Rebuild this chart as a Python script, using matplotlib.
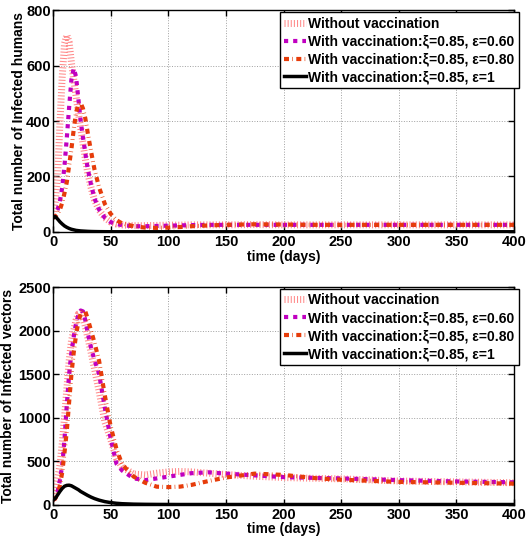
import matplotlib
matplotlib.use('Agg')
import matplotlib.pyplot as plt

# --- dados ---
t = [0, 2, 4, 6, 8, 10, 12, 14, 16, 18, 20, 22, 24, 26, 28, 30, 33, 36, 40, 45,
     50, 55, 60, 70, 80, 90, 100, 110, 120, 135, 150, 175, 200, 230, 250, 300, 350, 400]

# humanos infectados
hum_novac = [50, 110, 200, 390, 560, 680, 710, 685, 610, 550, 490, 430, 375, 320, 265, 215, 160, 115, 78, 50,
             35, 28, 25, 22, 22, 23, 24, 24, 25, 25, 25, 26, 25, 25, 25, 25, 25, 25]
hum_e060 = [50, 60, 80, 110, 160, 240, 340, 450, 550, 590, 560, 480, 400, 340, 285, 230, 170, 120, 80, 50,
            35, 28, 24, 20, 20, 21, 22, 23, 24, 25, 25, 25, 25, 25, 25, 25, 25, 25]
hum_e080 = [50, 55, 65, 80, 105, 140, 180, 240, 300, 370, 430, 460, 465, 445, 410, 360, 290, 225, 160, 100,
            65, 42, 30, 20, 15, 14, 15, 17, 20, 23, 25, 27, 26, 25, 25, 25, 25, 25]
hum_e1 = [50, 55, 46, 36, 28, 21, 16, 12, 9, 7, 5, 4, 3, 2.5, 2, 1.5, 1, 0.7, 0.4, 0.2,
          0.1, 0, 0, 0, 0, 0, 0, 0, 0, 0, 0, 0, 0, 0, 0, 0, 0, 0]

# vetores infectados
vec_novac = [50, 150, 300, 450, 700, 1000, 1330, 1650, 1880, 2000, 2120, 2190, 2200, 2150, 2050, 1930, 1750, 1560, 1300, 950,
             750, 530, 430, 350, 340, 360, 375, 380, 375, 360, 345, 325, 310, 300, 295, 270, 260, 250]
vec_e060 = [50, 80, 150, 280, 450, 750, 1150, 1500, 1750, 1930, 2080, 2180, 2230, 2220, 2120, 1980, 1800, 1660, 1500, 1110,
            760, 470, 390, 300, 280, 300, 320, 340, 360, 370, 355, 335, 315, 305, 300, 280, 265, 255]
vec_e080 = [50, 70, 120, 220, 370, 600, 850, 1180, 1500, 1750, 1950, 2100, 2190, 2230, 2220, 2140, 2000, 1860, 1650, 1250,
            900, 640, 460, 320, 250, 205, 200, 205, 225, 270, 310, 355, 340, 300, 285, 260, 250, 240]
vec_e1 = [50, 70, 110, 150, 185, 210, 220, 222, 215, 200, 185, 170, 150, 135, 120, 105, 85, 68, 50, 33,
          22, 14, 9, 4, 2, 1, 0.5, 0, 0, 0, 0, 0, 0, 0, 0, 0, 0, 0]

labels = ['Without vaccination',
          'With vaccination:\u03be=0.85, \u03b5=0.60',
          'With vaccination:\u03be=0.85, \u03b5=0.80',
          'With vaccination:\u03be=0.85, \u03b5=1']

plt.rcParams['font.family'] = ['Liberation Sans', 'DejaVu Sans']
plt.rcParams['font.weight'] = 'bold'
plt.rcParams['font.size'] = 10

fig = plt.figure(figsize=(5.3, 5.39), dpi=100)
ax1 = fig.add_axes([0.1, 0.57, 0.87, 0.411])
ax2 = fig.add_axes([0.1, 0.064, 0.87, 0.4035])


def draw(ax, series, ymax, yticks, ylabel, ylab_x):
    ax.plot(t, series[0], color='#ff8a8a', lw=5, dashes=(0.15, 0.3), dash_capstyle='butt', label=labels[0])
    ax.plot(t, series[1], color='#c000c0', lw=3, dashes=(1, 1.2), dash_capstyle='butt', label=labels[1])
    ax.plot(t, series[2], color='#e63c0a', lw=3, dashes=(1.2, 0.8, 0.15, 0.8), dash_capstyle='butt', label=labels[2])
    ax.plot(t, series[3], color='black', lw=2.5, label=labels[3])
    ax.set_xlim(0, 400)
    ax.set_ylim(0, ymax)
    ax.set_xticks(range(0, 401, 50))
    ax.set_yticks(yticks)
    ax.grid(True, linestyle=':', color='#a0a0a0', linewidth=0.7)
    ax.tick_params(direction='in', top=True, right=True, length=4, width=1, labelsize=10.5)
    ax.tick_params(axis='x', pad=2.5)
    ax.tick_params(axis='y', pad=1.5)
    for s in ax.spines.values():
        s.set_linewidth(1.0)
    ax.set_xlabel('time (days)', fontweight='bold', fontsize=10)
    ax.xaxis.set_label_coords(0.5, -0.082)
    ax.set_ylabel(ylabel, fontweight='bold', fontsize=10)
    ax.yaxis.set_label_coords(ylab_x, 0.5)
    leg = ax.legend(loc='upper right', bbox_to_anchor=(1.01, 0.99), fancybox=False, framealpha=1,
                    edgecolor='black', handlelength=1.6, handletextpad=0.15, borderpad=0.3,
                    labelspacing=0.28, borderaxespad=0, fontsize=10)
    leg.get_frame().set_linewidth(1.0)


draw(ax1, [hum_novac, hum_e060, hum_e080, hum_e1], 800, range(0, 801, 200),
     'Total number of Infected humans', -0.058)
draw(ax2, [vec_novac, vec_e060, vec_e080, vec_e1], 2500, range(0, 2501, 500),
     'Total number of Infected vectors', -0.083)

plt.savefig('out.png', dpi=100)
